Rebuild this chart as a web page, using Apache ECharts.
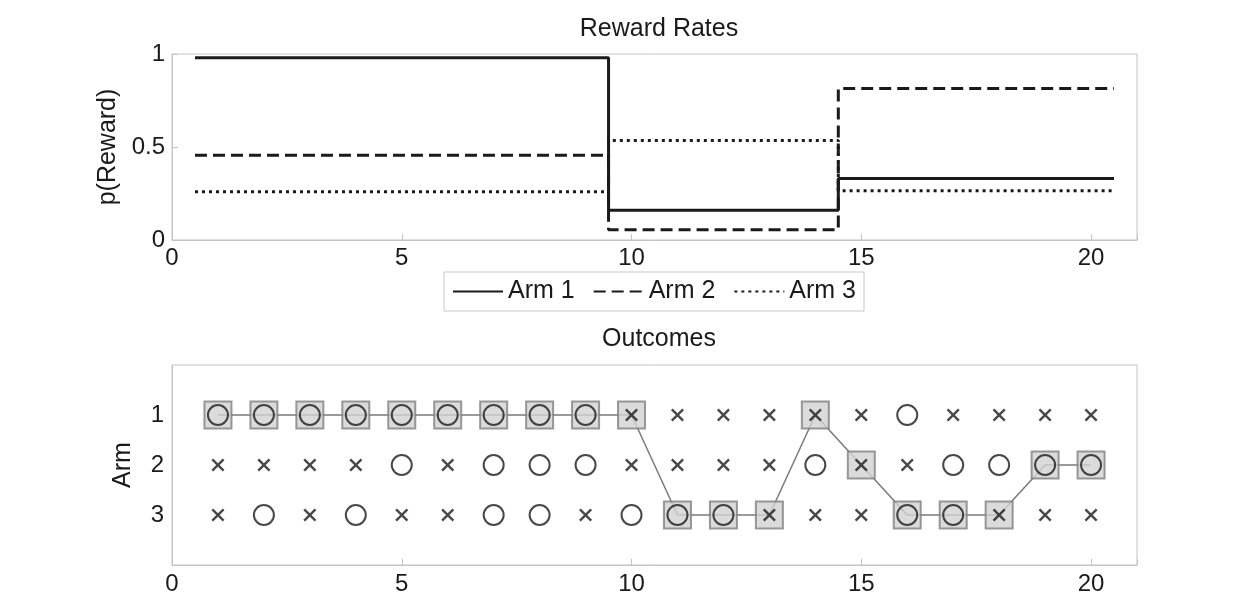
<!DOCTYPE html>
<html>
<head>
<meta charset="utf-8">
<script src="https://cdn.jsdelivr.net/npm/echarts@6/dist/echarts.min.js"></script>
<style>html,body{margin:0;padding:0;background:#fff;}#c{width:1247px;height:612px;}</style>
</head>
<body>
<div id="c"></div>
<script>
// ---- data ----
const changePoints = [0.5, 9.5, 14.5, 20.5];
const arm1Rate = [0.98, 0.16, 0.33];
const arm2Rate = [0.455, 0.055, 0.815];
const arm3Rate = [0.26, 0.535, 0.265];
const armNames = ['Arm 1', 'Arm 2', 'Arm 3'];
const xTicks = [0, 5, 10, 15, 20];
const trials = [1,2,3,4,5,6,7,8,9,10,11,12,13,14,15,16,17,18,19,20];
const chosenArm = [1,1,1,1,1,1,1,1,1,1,3,3,3,1,2,3,3,3,2,2];
const arm1Out = [1,1,1,1,1,1,1,1,1,0,0,0,0,0,0,1,0,0,0,0];
const arm2Out = [0,0,0,0,1,0,1,1,1,0,0,0,0,1,0,0,1,1,1,1];
const arm3Out = [0,1,0,1,0,0,1,1,0,1,1,1,0,0,0,1,1,0,0,0];

function stepData(rates) {
  const d = [];
  for (let i = 0; i < rates.length; i++) {
    d.push([changePoints[i], rates[i]]);
    d.push([changePoints[i + 1], rates[i]]);
  }
  return d;
}
const outs = [arm1Out, arm2Out, arm3Out];
const rewardPts = [], missPts = [];
outs.forEach((o, a) => o.forEach((v, i) => {
  (v ? rewardPts : missPts).push([trials[i], a + 1]);
}));
const chosenPts = trials.map((t, i) => [t, chosenArm[i]]);

const FONT = 'Liberation Sans';
const ink = '#1a1a1a';
const axisGrey = '#c4c4c4';
const TICK_FS = 24;
const crossPath = 'path://M0,1.3 L1.3,0 L5,3.7 L8.7,0 L10,1.3 L6.3,5 L10,8.7 L8.7,10 L5,6.3 L1.3,10 L0,8.7 L3.7,5 Z';

const xAxisBase = (gi, margin) => ({
  gridIndex: gi, type: 'value', min: 0, max: 21, interval: 5,
  axisLine: { show: true, onZero: false, lineStyle: { color: axisGrey, width: 1 } },
  axisTick: { show: true, inside: true, length: 6, lineStyle: { color: axisGrey } },
  splitLine: { show: false },
  axisLabel: { fontFamily: FONT, fontSize: TICK_FS, color: ink, margin: margin,
    formatter: v => xTicks.indexOf(v) >= 0 ? String(v) : '' }
});

const option = {
  backgroundColor: '#fff',
  animation: false,
  title: [
    { text: 'Reward Rates', left: 654, top: 12, textAlign: 'center',
      textStyle: { fontFamily: FONT, fontSize: 25, fontWeight: 'normal', color: ink } },
    { text: 'Outcomes', left: 654, top: 322, textAlign: 'center',
      textStyle: { fontFamily: FONT, fontSize: 25, fontWeight: 'normal', color: ink } }
  ],
  legend: {
    data: armNames, left: 444, top: 272,
    orient: 'horizontal', itemWidth: 50, itemHeight: 14, itemGap: 18,
    padding: [7, 8, 7, 8],
    borderColor: '#c8c8c8', borderWidth: 1, backgroundColor: '#fff',
    itemStyle: { opacity: 0 },
    textStyle: { fontFamily: FONT, fontSize: 25, color: ink }
  },
  grid: [
    { left: 172, right: 110, top: 54, height: 186, show: true, borderColor: axisGrey, borderWidth: 1, backgroundColor: '#fff' },
    { left: 172, right: 110, top: 365, height: 200, show: true, borderColor: axisGrey, borderWidth: 1, backgroundColor: '#fff' }
  ],
  xAxis: [ xAxisBase(0, 6), xAxisBase(1, 7) ],
  yAxis: [
    { gridIndex: 0, type: 'value', min: 0, max: 1, interval: 0.5,
      name: 'p(Reward)', nameLocation: 'middle', nameGap: 50, nameRotate: 90,
      nameTextStyle: { fontFamily: FONT, fontSize: 25, color: ink },
      axisLine: { show: true, lineStyle: { color: axisGrey } },
      axisTick: { show: true, inside: true, length: 6, lineStyle: { color: axisGrey } },
      splitLine: { show: false },
      axisLabel: { fontFamily: FONT, fontSize: TICK_FS, color: ink, margin: 7 } },
    { gridIndex: 1, type: 'value', min: 0, max: 4, interval: 1, inverse: true,
      name: 'Arm', nameLocation: 'middle', nameGap: 36, nameRotate: 90,
      nameTextStyle: { fontFamily: FONT, fontSize: 25, color: ink },
      axisLine: { show: true, lineStyle: { color: axisGrey } },
      axisTick: { show: false },
      splitLine: { show: false },
      axisLabel: { fontFamily: FONT, fontSize: TICK_FS, color: ink, margin: 8,
        formatter: v => (v >= 1 && v <= 3) ? String(v) : '' } }
  ],
  series: [
    { name: armNames[0], type: 'line', xAxisIndex: 0, yAxisIndex: 0, data: stepData(arm1Rate),
      symbol: 'none', color: ink, lineStyle: { color: ink, width: 3, type: 'solid' } },
    { name: armNames[1], type: 'line', xAxisIndex: 0, yAxisIndex: 0, data: stepData(arm2Rate),
      symbol: 'none', color: ink, lineStyle: { color: ink, width: 3, type: [12, 6] } },
    { name: armNames[2], type: 'line', xAxisIndex: 0, yAxisIndex: 0, data: stepData(arm3Rate),
      symbol: 'none', color: ink, lineStyle: { color: ink, width: 3, type: [3, 4] } },
    { name: 'path', type: 'line', xAxisIndex: 1, yAxisIndex: 1, data: chosenPts,
      symbol: 'none', z: 1, lineStyle: { color: '#7a7a7a', width: 1.5 } },
    { name: 'chosen', type: 'scatter', xAxisIndex: 1, yAxisIndex: 1, data: chosenPts,
      symbol: 'rect', symbolSize: 27, z: 2,
      itemStyle: { color: '#d2d2d2', borderColor: '#808080', borderWidth: 2 } },
    { name: 'reward', type: 'scatter', xAxisIndex: 1, yAxisIndex: 1, data: rewardPts,
      symbol: 'circle', symbolSize: 20, z: 3,
      itemStyle: { color: 'rgba(0,0,0,0)', borderColor: ink, borderWidth: 2 } },
    { name: 'miss', type: 'scatter', xAxisIndex: 1, yAxisIndex: 1, data: missPts,
      symbol: crossPath, symbolSize: 13, z: 3,
      itemStyle: { color: ink } }
  ]
};
const chart = echarts.init(document.getElementById('c'), null, { renderer: 'canvas' });
chart.setOption(option);
</script>
</body>
</html>
